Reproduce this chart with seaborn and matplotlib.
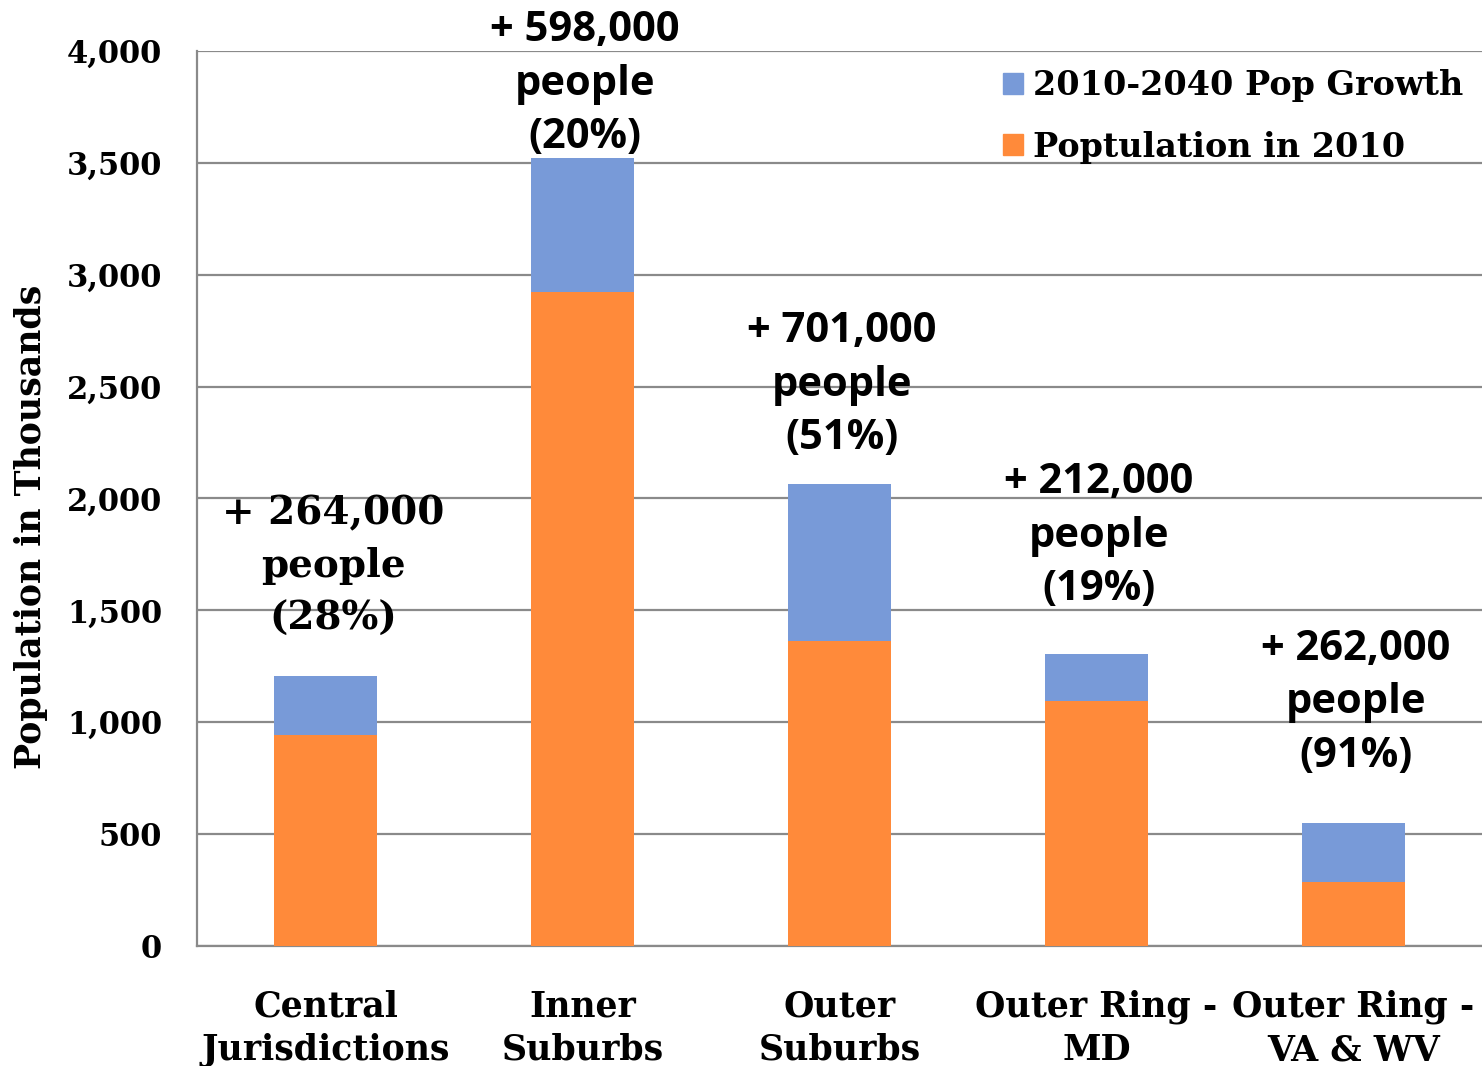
import pandas as pd
import numpy as np
import seaborn as sns
import matplotlib.pyplot as plt
from matplotlib.patches import Patch

# Chart data (population in thousands)
regions = ['Central\nJurisdictions', 'Inner\nSuburbs', 'Outer\nSuburbs',
           'Outer Ring -\nMD', 'Outer Ring -\nVA & WV']
pop_2010 = [943, 2923, 1362, 1095, 288]
growth = [264, 598, 701, 212, 262]
growth_pct = [28, 20, 51, 19, 91]

df = pd.DataFrame({'region': regions, 'pop_2010': pop_2010, 'growth': growth})
df['total'] = df['pop_2010'] + df['growth']

orange = '#FF8A3A'
blue = '#789AD8'
grid_gray = '#8A8A8A'

sns.set_style('white')
plt.rcParams['font.family'] = ['DejaVu Serif']
plt.rcParams['text.color'] = 'black'
plt.rcParams['axes.labelcolor'] = 'black'

fig = plt.figure(figsize=(14.82, 10.66), dpi=100)
ax = fig.add_axes([0.1329, 0.1126, 0.8671, 0.8396])

# stacked bars: total in blue, base in orange on top
sns.barplot(data=df, x='region', y='total', color=blue, width=0.4,
            saturation=1, linewidth=0, ax=ax, zorder=2)
sns.barplot(data=df, x='region', y='pop_2010', color=orange, width=0.4,
            saturation=1, linewidth=0, ax=ax, zorder=3)

ax.set_ylim(0, 4000)
ax.set_xlim(-0.5, 4.471)
ax.set_yticks(np.arange(0, 4001, 500))
ax.set_yticklabels([f'{v:,}' for v in range(0, 4001, 500)],
                   fontsize=22, fontweight='bold')
ax.yaxis.grid(True, color=grid_gray, linewidth=1.6, zorder=0)
ax.set_axisbelow(True)

# category labels between boundary ticks
ax.set_xticks(range(len(regions)))
ax.set_xticklabels(regions, fontsize=25, fontweight='bold', linespacing=1.36)
ax.set_xticks(np.arange(-0.5, len(regions), 1), minor=True)
ax.tick_params(axis='x', which='major', length=0, pad=31)
ax.tick_params(axis='x', which='minor', length=10, width=1.5, color=grid_gray,
               direction='out')
ax.tick_params(axis='y', length=7, width=1.5, color=grid_gray, pad=18,
               direction='out')
ax.tick_params(axis='both', labelcolor='black')

for side in ['top', 'right']:
    ax.spines[side].set_visible(False)
for side in ['left', 'bottom']:
    ax.spines[side].set_color(grid_gray)
    ax.spines[side].set_linewidth(1.6)

ax.set_xlabel('')
ax.set_ylabel('Population in Thousands', fontsize=25, fontweight='bold')
ax.yaxis.set_label_coords(-0.116, 0.468)

# growth annotations
label_y = [1698, 3852, 2507, 1832, 1086]
for i, (g, p) in enumerate(zip(growth, growth_pct)):
    txt = f'+ {g:,},000\npeople\n({p}%)'
    if i == 0:
        ax.text(i + 0.03, label_y[i], txt, ha='center', va='center',
                fontsize=28, fontweight='bold', linespacing=1.49, zorder=4)
    else:
        ax.text(i + 0.01, label_y[i], txt, ha='center', va='center',
                fontsize=30, fontweight='bold', linespacing=1.39, zorder=4,
                family=['Open Sans', 'DejaVu Sans'])

handles = [Patch(color=blue, label='2010-2040 Pop Growth'),
           Patch(color=orange, label='Poptulation in 2010')]
ax.legend(handles=handles, loc='upper right', bbox_to_anchor=(1.0, 1.0),
          frameon=False, prop={'size': 24, 'weight': 'bold'},
          handlelength=0.6, handleheight=0.6, handletextpad=0.3,
          labelspacing=0.85, borderaxespad=0.15)

fig.savefig('out.png', dpi=100)
